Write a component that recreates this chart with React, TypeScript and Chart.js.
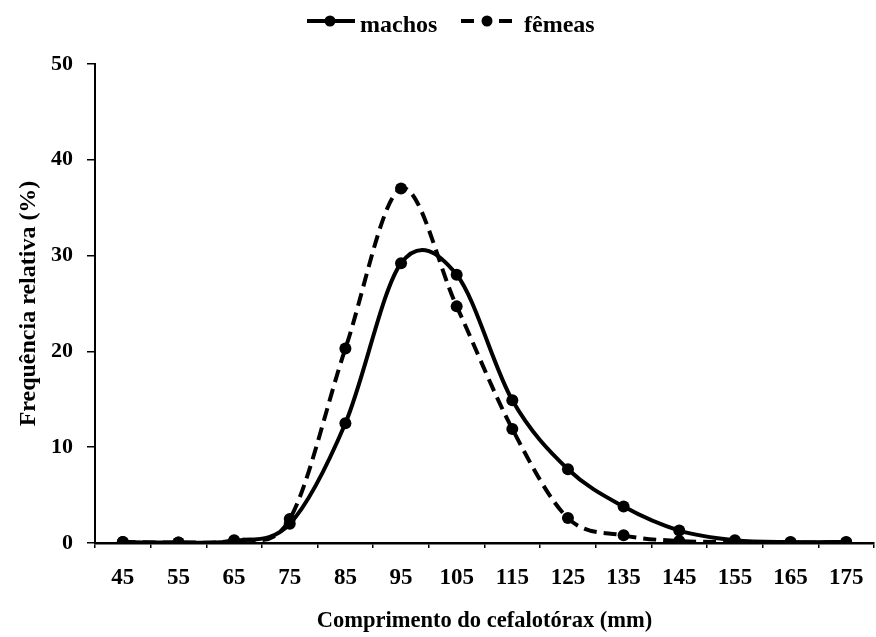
import React, { useEffect, useRef } from "react";
import { Chart, registerables } from "chart.js";

Chart.register(...registerables);

const categories = ["45", "55", "65", "75", "85", "95", "105", "115", "125", "135", "145", "155", "165", "175"];
const machos = [0.1, 0.05, 0.2, 2.0, 12.5, 29.2, 28.0, 14.9, 7.7, 3.8, 1.3, 0.3, 0.1, 0.1];
const femeas = [0.1, 0.05, 0.3, 2.5, 20.3, 37.0, 24.7, 11.9, 2.6, 0.8, 0.2, 0.1, 0.05, 0.05];
const seriesNames = ["machos", "fêmeas"];
const yTitle = "Frequência relativa (%)";
const xTitle = "Comprimento do cefalotórax (mm)";

const FONT = "'Liberation Serif', 'Times New Roman', serif";

// Excel-like smoothing: uniform Catmull-Rom control points from the library's point positions
const smoothPlugin = {
  id: "uniformSmooth",
  beforeDatasetsDraw(chart: any) {
    chart.data.datasets.forEach((_ds: any, i: number) => {
      const meta = chart.getDatasetMeta(i);
      const line = meta.dataset;
      if (line && typeof line.updateControlPoints === "function") {
        line.updateControlPoints(chart.chartArea, "x");
      }
      const pts = meta.data;
      const n = pts.length;
      for (let k = 0; k < n; k++) {
        const p = pts[k];
        const prev = pts[Math.max(0, k - 1)];
        const next = pts[Math.min(n - 1, k + 1)];
        const dx = (next.x - prev.x) / 6;
        const dy = (next.y - prev.y) / 6;
        p.cp1x = p.x - dx;
        p.cp1y = p.y - dy;
        p.cp2x = p.x + dx;
        p.cp2y = p.y + dy;
      }
      if (line) line._path = undefined;
    });
  },
};

const legendPlugin = {
  id: "customLegend",
  afterDraw(chart: any) {
    const ctx = chart.ctx as CanvasRenderingContext2D;
    const ly = 21;
    ctx.save();
    ctx.strokeStyle = "#000";
    ctx.fillStyle = "#000";
    ctx.lineWidth = 4;
    ctx.beginPath();
    ctx.moveTo(307, ly);
    ctx.lineTo(355, ly);
    ctx.stroke();
    ctx.beginPath();
    ctx.arc(330, ly, 5.5, 0, Math.PI * 2);
    ctx.fill();
    ctx.beginPath();
    ctx.moveTo(461, ly);
    ctx.lineTo(474, ly);
    ctx.moveTo(499, ly);
    ctx.lineTo(512, ly);
    ctx.stroke();
    ctx.beginPath();
    ctx.arc(487, ly, 5.5, 0, Math.PI * 2);
    ctx.fill();
    ctx.font = `bold 24px ${FONT}`;
    ctx.textBaseline = "alphabetic";
    ctx.textAlign = "left";
    ctx.fillText(chart.data.datasets[0].label, 360, 31.5);
    ctx.fillText(chart.data.datasets[1].label, 524, 31.5);
    ctx.restore();
  },
};

export default function App() {
  const ref = useRef<HTMLCanvasElement | null>(null);
  useEffect(() => {
    if (!ref.current) return;
    const chart = new Chart(ref.current, {
      type: "line",
      data: {
        labels: categories,
        datasets: [
          {
            label: seriesNames[0],
            data: machos,
            borderColor: "#000",
            backgroundColor: "#000",
            borderWidth: 4,
            pointRadius: 6,
            pointBackgroundColor: "#000",
            pointBorderWidth: 0,
            tension: 0.4,
          },
          {
            label: seriesNames[1],
            data: femeas,
            borderColor: "#000",
            backgroundColor: "#000",
            borderWidth: 4,
            borderDash: [13, 7],
            pointRadius: 6,
            pointBackgroundColor: "#000",
            pointBorderWidth: 0,
            tension: 0.4,
          },
        ],
      },
      options: {
        responsive: false,
        animation: false,
        layout: { padding: { top: 64, right: 1, left: 0, bottom: 0 } },
        plugins: {
          legend: { display: false },
          tooltip: { enabled: false },
        },
        scales: {
          x: {
            type: "category",
            offset: true,
            grid: {
              offset: true,
              drawOnChartArea: false,
              drawTicks: true,
              tickLength: 5,
              color: "#000",
              lineWidth: 1.5,
            },
            border: { color: "#000", width: 2.5 },
            ticks: {
              color: "#000",
              padding: 16,
              maxRotation: 0,
              autoSkip: false,
              font: { family: FONT, size: 23, weight: "bold" },
            },
            title: {
              display: true,
              text: xTitle,
              color: "#000",
              font: { family: FONT, size: 22.5, weight: "bold" },
              padding: { top: 0, bottom: 2 },
            },
            afterFit: (s: any) => {
              s.height = 94;
            },
          },
          y: {
            min: 0,
            max: 50,
            ticks: {
              stepSize: 10,
              color: "#000",
              padding: 14,
              font: { family: FONT, size: 22, weight: "bold" },
            },
            grid: {
              drawOnChartArea: false,
              drawTicks: true,
              tickLength: 8,
              color: "#000",
              lineWidth: 1.5,
            },
            border: { color: "#000", width: 2 },
            title: {
              display: true,
              text: yTitle,
              color: "#000",
              font: { family: FONT, size: 24, weight: "bold" },
              padding: { top: 14, bottom: 0 },
            },
            afterFit: (s: any) => {
              s.width = 95;
            },
          },
        },
      },
      plugins: [smoothPlugin, legendPlugin],
    });
    return () => chart.destroy();
  }, []);
  return (
    <div
      style={{
        position: "absolute",
        left: 0,
        top: 0,
        width: 876,
        height: 637,
        overflow: "hidden",
        background: "#fff",
      }}
    >
      <canvas ref={ref} width={880} height={637} style={{ display: "block" }} />
    </div>
  );
}
